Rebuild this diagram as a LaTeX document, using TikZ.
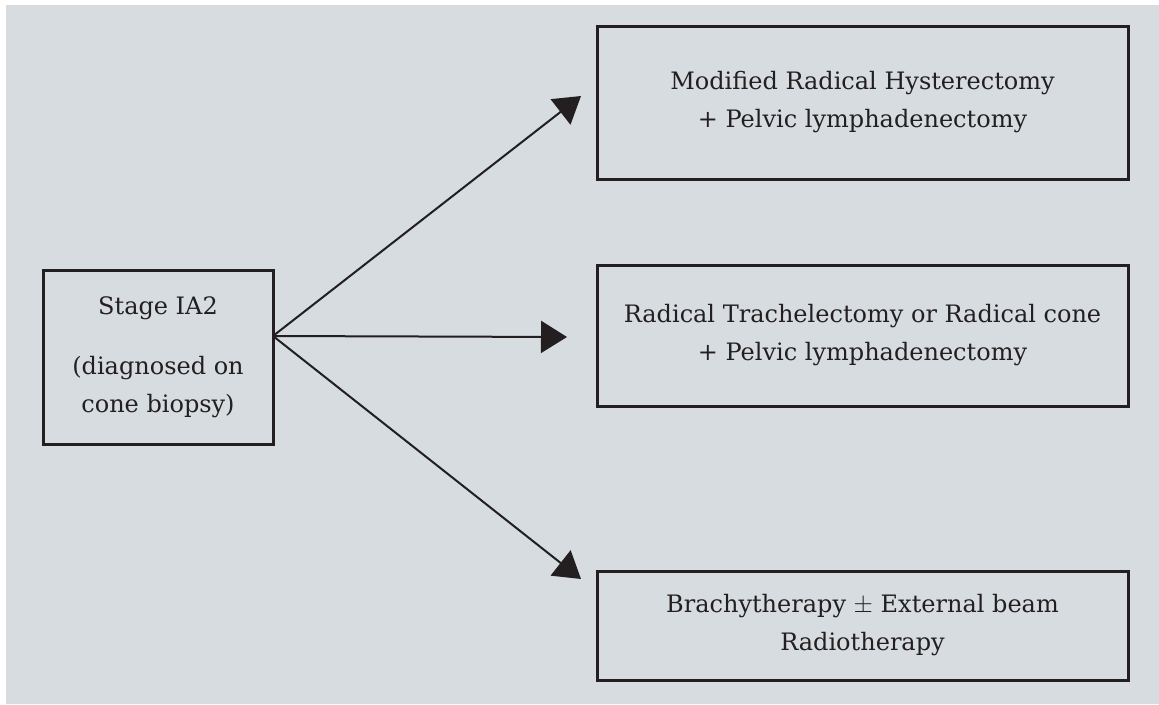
\documentclass[tikz,border=0pt]{standalone}
\usepackage{fontspec}
\setmainfont{DejaVu Serif}
\usetikzlibrary{arrows.meta}
\definecolor{panel}{HTML}{D6DCDF}
\definecolor{ink}{HTML}{231F20}
\tikzset{
    box/.style={draw=ink, line width=3pt, text=ink, align=center, font=\fontsize{24}{38}\selectfont},
    link/.style={draw=ink, line width=2pt, -{Triangle[length=26pt,width=32pt]}}
}
\begin{document}
\begin{tikzpicture}[x=1pt,y=-1pt]
        \useasboundingbox[fill=white] (0,0) rectangle (1159,704);
        \fill[panel] (6,5) rectangle (1159,704);
        \node[box, minimum width=230pt, minimum height=174pt] (stage) at (158,357) {Stage IA2\\[22pt](diagnosed on\\cone biopsy)};
        \node[box, minimum width=531pt, minimum height=153pt] (hyst) at (862.5,102.5) {Modified Radical Hysterectomy\\+ Pelvic lymphadenectomy};
        \node[box, minimum width=531pt, minimum height=141pt] (trach) at (862.5,335.5) {Radical Trachelectomy or Radical cone\\+ Pelvic lymphadenectomy};
        \node[box, minimum width=531pt, minimum height=109pt] (brachy) at (862.5,625.5) {Brachytherapy $\pm$ External beam\\Radiotherapy};
        \coordinate (fork) at (273,336);
        \coordinate (tiphyst) at (581,96);
        \coordinate (tiptrach) at (567,337);
        \coordinate (tipbrachy) at (581,579);
        \draw[link] (fork) -- (tiphyst);
        \draw[link] (fork) -- (tiptrach);
        \draw[link] (fork) -- (tipbrachy);
    \end{tikzpicture}
\end{document}
